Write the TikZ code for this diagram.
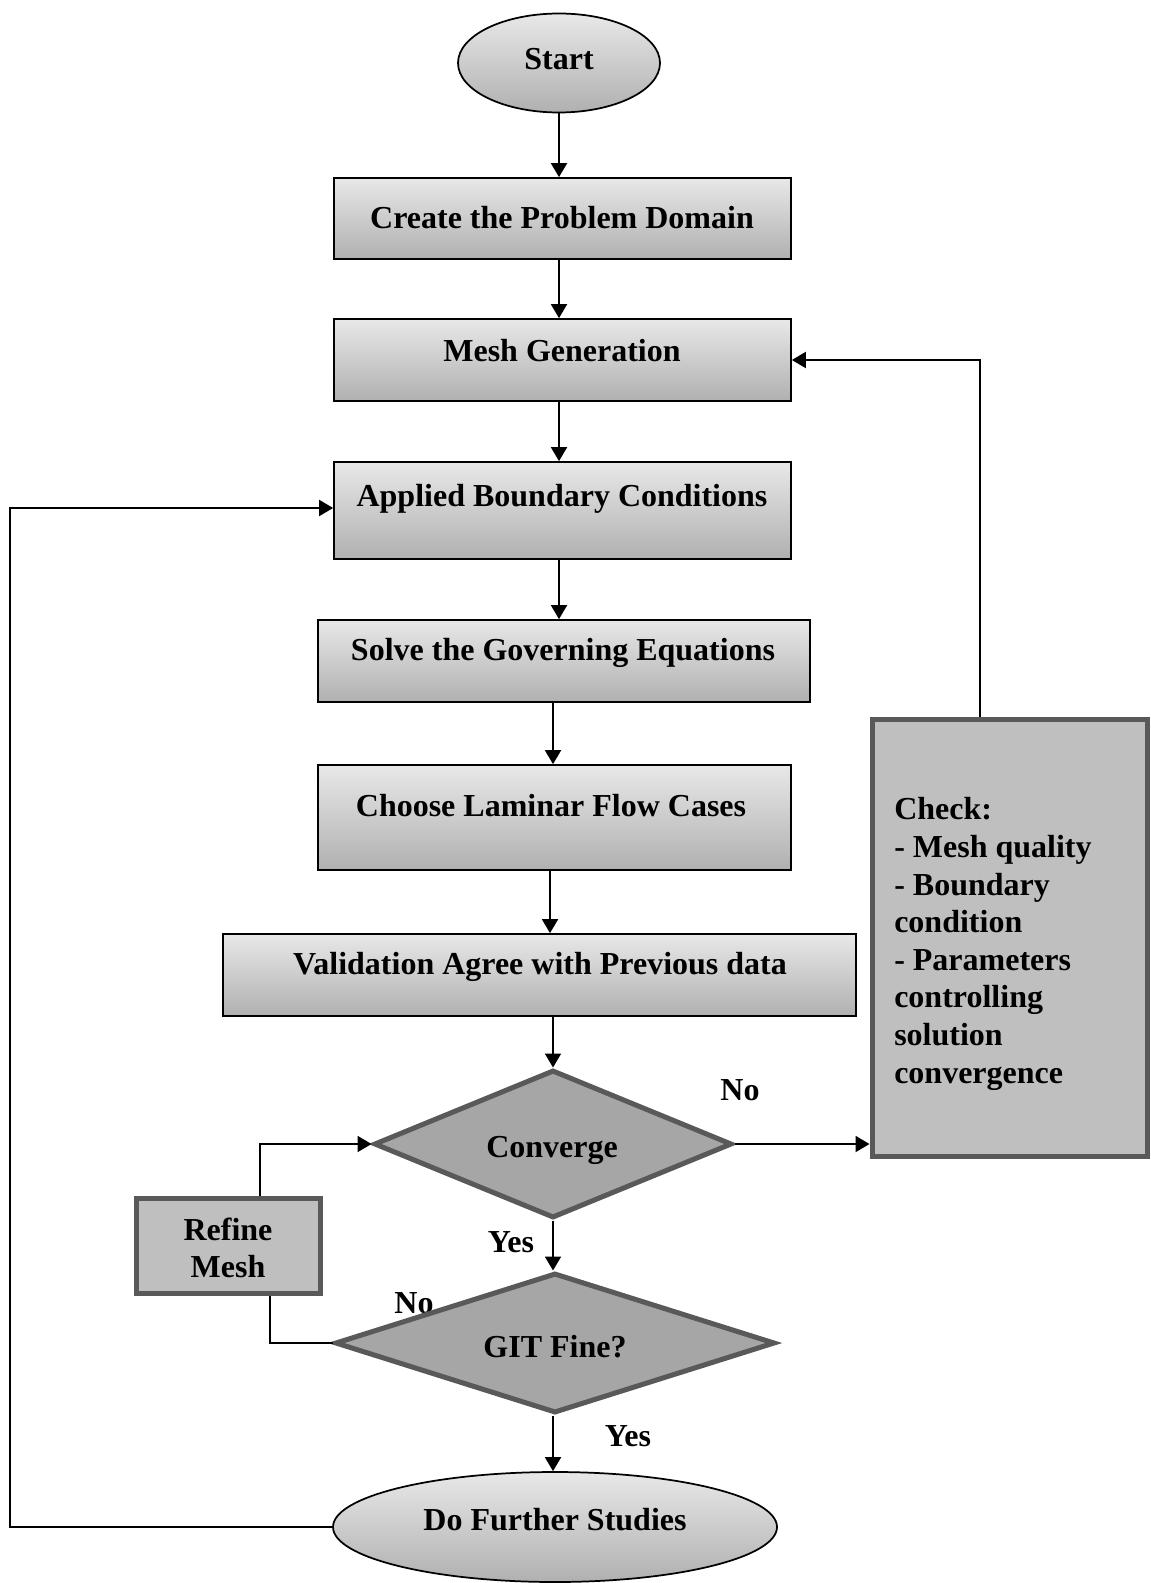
\documentclass[tikz,border=0pt]{standalone}
\usepackage{fontspec}
\setmainfont{Liberation Serif}
\usetikzlibrary{shapes.geometric,arrows.meta,calc}
\newdimen\px \px=0.75pt
\definecolor{dmdfill}{HTML}{A6A6A6}
\definecolor{dkborder}{HTML}{595959}
\definecolor{boxfill}{HTML}{BFBFBF}
\definecolor{gtop}{HTML}{E8E8E8}
\definecolor{gbot}{HTML}{B0B0B0}
\tikzset{
  gbox/.style={draw=black, line width=1.3pt, top color=gtop, bottom color=gbot, rectangle, inner sep=0pt},
  oval/.style={draw=black, line width=1.3pt, top color=gtop, bottom color=gbot, ellipse, inner sep=0pt},
  dmd/.style={draw=dkborder, line width=3.75pt, fill=dmdfill, diamond, inner sep=0pt},
  pbox/.style={draw=dkborder, line width=3.75pt, fill=boxfill, rectangle, inner sep=0pt},
  txt/.style={font=\fontsize{24}{28.2}\selectfont\bfseries, inner sep=0pt, text=black},
  arr/.style={line width=1.45pt, -{Triangle[length=10.5pt,width=12pt]}},
  ln/.style={line width=1.45pt},
}
\begin{document}
\begin{tikzpicture}[x=0.75pt,y=-0.75pt]
\useasboundingbox (0,0) rectangle (1150,1583);
% nodes
\node[oval, minimum width=202\px, minimum height=99\px] (start) at (559,63) {};
\node[txt] (tstart) at (559,59) {Start};
\node[gbox, minimum width=457\px, minimum height=81\px] (b1) at (562.5,218.5) {};
\node[txt] (t1) at (562,218) {Create the Problem Domain};
\node[gbox, minimum width=457\px, minimum height=82\px] (b2) at (562.5,360) {};
\node[txt] (t2) at (562,351) {Mesh Generation};
\node[gbox, minimum width=457\px, minimum height=97\px] (b3) at (562.5,510.5) {};
\node[txt] (t3) at (562,499) {Applied Boundary Conditions};
\node[gbox, minimum width=492\px, minimum height=82\px] (b4) at (564,661) {};
\node[txt] (t4) at (563,653) {Solve the Governing Equations};
\node[gbox, minimum width=473\px, minimum height=105\px] (b5) at (554.5,817.5) {};
\node[txt] (t5) at (551,806) {Choose Laminar Flow Cases};
\node[gbox, minimum width=633\px, minimum height=82\px] (b6) at (539.5,975) {};
\node[txt] (t6) at (540,967) {Validation Agree with Previous data};
\node[pbox, minimum width=275\px, minimum height=437\px] (chk) at (1009.5,937.5) {};
\node[txt, align=left, anchor=west] (tchk) at (894,944) {Check:\\- Mesh quality\\- Boundary\\condition\\- Parameters\\controlling\\solution\\convergence};
\node[dmd, minimum width=358\px, minimum height=148\px] (conv) at (553,1144) {};
\node[txt] (tconv) at (552,1150) {Converge};
\node[txt] (lno2) at (414,1303) {No};
\node[dmd, minimum width=440\px, minimum height=140\px] (git) at (555,1343) {};
\node[txt] (tgit) at (555,1347) {GIT Fine?};
\node[oval, minimum width=444\px, minimum height=110\px] (dfs) at (555,1527) {};
\node[txt] (tdfs) at (555,1520) {Do Further Studies};
\node[pbox, minimum width=184\px, minimum height=95\px] (ref) at (228,1245.5) {};
\node[txt, align=center] (tref) at (228,1248) {Refine\\Mesh};
\node[txt] (lno1) at (740,1090) {No};
\node[txt] (lyes1) at (511,1242) {Yes};
\node[txt] (lyes2) at (628,1436) {Yes};
\coordinate (lft) at (10,508);
% connectors
\draw[arr] (start.south) -- (start.south |- b1.north);
\draw[arr] (b1.south -| start) -- (b2.north -| start);
\draw[arr] (b2.south -| start) -- (b3.north -| start);
\draw[arr] (b3.south -| start) -- (b4.north -| start);
\draw[arr] (b4.south -| conv) -- (b5.north -| conv);
\draw[arr] ($(b5.south -| conv)+(-3,0)$) -- ($(b6.north -| conv)+(-3,0)$);
\draw[arr] (b6.south -| conv) -- (conv.north);
\draw[arr] (conv.south) -- (conv.south |- git.north);
\draw[arr] (git.south -| conv) -- (dfs.north -| conv);
\draw[arr] (conv.east) -- (chk.west |- conv.east);
\draw[arr] ($(chk.north)+(-29.5,0)$) |- (b2.east);
\draw[arr] ($(ref.north)+(32,0)$) |- (conv.west);
\draw[ln] (git.west) -| ($(ref.south)+(42,0)$);
\draw[arr] (dfs.west) -| (lft) -- (lft -| b3.west);
\end{tikzpicture}
\end{document}
